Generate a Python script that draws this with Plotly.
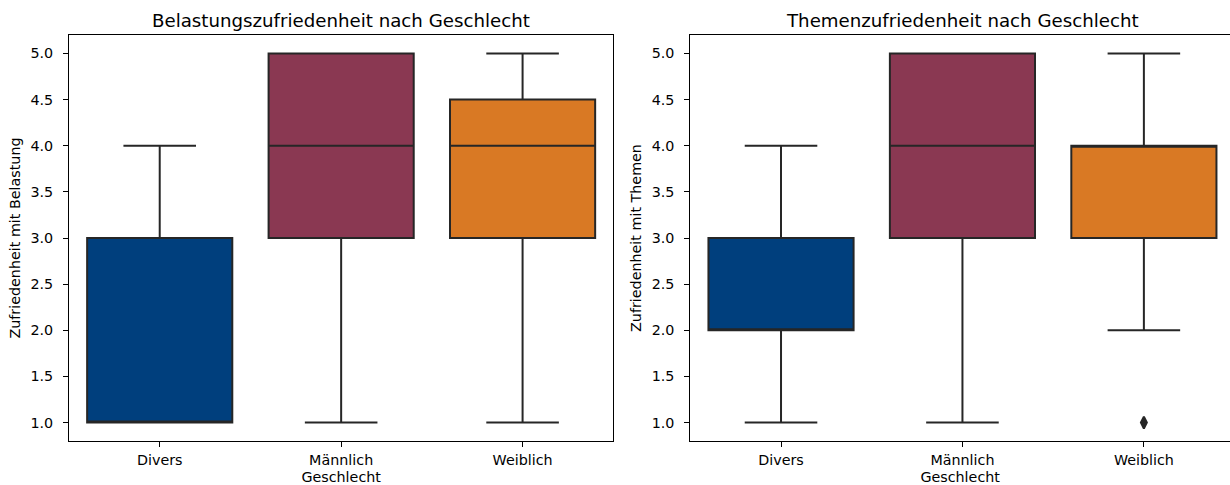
import plotly.graph_objects as go

# Gender groups and box colours
categories = ["Divers", "Männlich", "Weiblich"]
colors = ["#003F7D", "#8A3852", "#D97924"]

# Satisfaction with workload (Belastung): box statistics per group
bel_low = [1, 1, 1]
bel_q1 = [1, 3, 3]
bel_median = [1, 4, 4]
bel_q3 = [3, 5, 4.5]
bel_high = [4, 5, 5]

# Satisfaction with topics (Themen): box statistics per group
them_low = [1, 1, 2]
them_q1 = [2, 3, 3]
them_median = [2, 4, 4]
them_q3 = [3, 5, 4]
them_high = [4, 5, 5]

# Outlier points in the topics panel
them_out_group = ["Weiblich"]
them_out_value = [1]

y_ticks = [1.0, 1.5, 2.0, 2.5, 3.0, 3.5, 4.0, 4.5, 5.0]

LINE = "#262626"
FONT = "DejaVu Sans"
W, H = 1230, 485
ML, MR, MT, MB = 69, 0, 35, 44

positions = list(range(len(categories)))

fig = go.Figure()


def add_panel(xa, ya, low, q1, med, q3, high):
    for i, cat in enumerate(categories):
        fig.add_trace(go.Box(
            x=[positions[i]], q1=[q1[i]], median=[med[i]], q3=[q3[i]],
            lowerfence=[low[i]], upperfence=[high[i]],
            width=0.8, whiskerwidth=0.5, boxpoints=False,
            fillcolor=colors[i], line=dict(color=LINE, width=2),
            name=cat, showlegend=False, hoverinfo="skip",
            xaxis=xa, yaxis=ya,
        ))


add_panel("x", "y", bel_low, bel_q1, bel_median, bel_q3, bel_high)
add_panel("x2", "y2", them_low, them_q1, them_median, them_q3, them_high)

fig.add_trace(go.Scatter(
    x=[categories.index(g) for g in them_out_group], y=them_out_value,
    mode="markers", xaxis="x2", yaxis="y2",
    marker=dict(symbol="diamond-tall", size=8.5, color=LINE,
                line=dict(width=2, color=LINE)),
    showlegend=False, hoverinfo="skip",
))

plot_w = W - ML - MR
px_per_unit = (613.3 - ML) / 3.0
left_dom = [0, (613.3 - ML) / plot_w]
right_start = (690.3 - ML) / plot_w
right_span_px = W - 690.3
right_range = [-0.5, -0.5 + right_span_px / px_per_unit]

axis_font = dict(family=FONT, size=14.3, color="#000000")


def xaxis_cfg(domain, rng, anchor):
    return dict(
        domain=domain, range=rng, anchor=anchor,
        tickmode="array", tickvals=positions, ticktext=categories,
        showline=True, mirror=True, linecolor="#000000", linewidth=1,
        ticks="outside", ticklen=5, tickwidth=1, tickcolor="#000000",
        ticklabelstandoff=1,
        showgrid=False, zeroline=False, tickfont=axis_font,
        title=dict(text="Geschlecht", font=axis_font, standoff=6),
    )


def yaxis_cfg(anchor, title, mirror):
    return dict(
        anchor=anchor, range=[0.8, 5.2],
        tickmode="array", tickvals=y_ticks,
        ticktext=[f"{v:.1f}" for v in y_ticks],
        showline=True, mirror=mirror, linecolor="#000000", linewidth=1,
        ticks="outside", ticklen=5, tickwidth=1, tickcolor="#000000",
        ticklabelstandoff=7,
        showgrid=False, zeroline=False, tickfont=axis_font,
        title=dict(text=title, font=axis_font, standoff=6),
    )


title_font = dict(family=FONT, size=18.2, color="#000000")
left_center = (left_dom[0] + left_dom[1]) / 2
right_center = ((690.3 + 690.3 + 3 * px_per_unit) / 2 - ML) / plot_w

fig.update_layout(
    width=W, height=H,
    margin=dict(l=ML, r=MR, t=MT, b=MB, pad=0),
    paper_bgcolor="white", plot_bgcolor="white",
    font=dict(family=FONT, color="#000000"),
    xaxis=xaxis_cfg(left_dom, [-0.5, 2.5], "y"),
    yaxis=yaxis_cfg("x", "Zufriedenheit mit Belastung", True),
    xaxis2=xaxis_cfg([right_start, 1], right_range, "y2"),
    yaxis2=yaxis_cfg("x2", "Zufriedenheit mit Themen", False),
    annotations=[
        dict(text="Belastungszufriedenheit nach Geschlecht", x=left_center, y=1,
             xref="paper", yref="paper", xanchor="center", yanchor="bottom",
             yshift=2, showarrow=False, font=title_font),
        dict(text="Themenzufriedenheit nach Geschlecht", x=right_center, y=1,
             xref="paper", yref="paper", xanchor="center", yanchor="bottom",
             yshift=2, showarrow=False, font=title_font),
    ],
)

fig.write_html("out.html")
